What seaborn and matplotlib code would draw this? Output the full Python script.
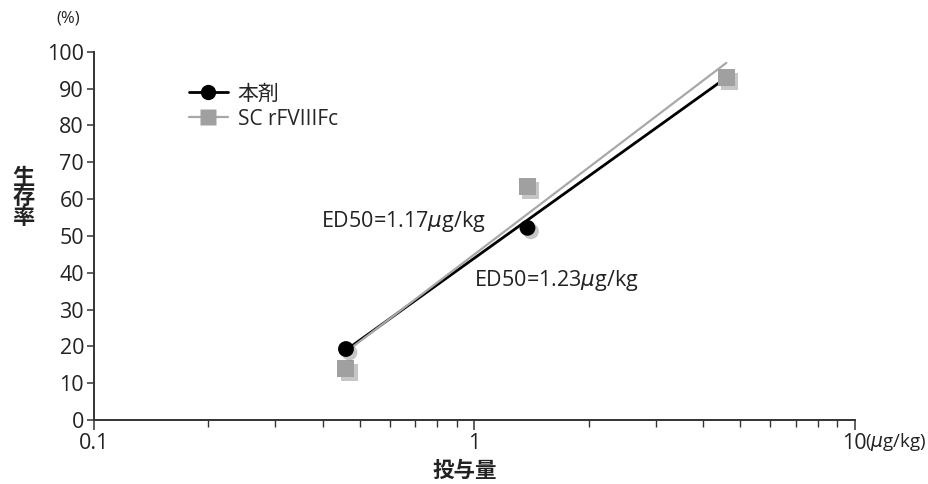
import matplotlib
matplotlib.use("Agg")
import matplotlib.pyplot as plt
import matplotlib.patheffects as pe
import pandas as pd
import seaborn as sns

# doses (ug/kg) and survival (%)
doses = [0.46, 1.38, 4.6]
survival_drug = [19.3, 52.2, 93.0]
survival_sc = [13.9, 63.3, 93.0]

# fitted lines (end points, %)
fit_dose = [0.46, 4.6]
fit_drug = [19.0, 93.0]
fit_sc = [18.5, 97.0]

series_names = ["本剤", "SC rFVIIIFc"]
ed50_labels = ["ED50=1.23$\\mu$g/kg", "ED50=1.17$\\mu$g/kg"]
y_ticks = list(range(0, 101, 10))

sns.set_theme(style="ticks")
plt.rcParams["font.family"] = ["Open Sans", "Noto Sans CJK JP", "DejaVu Sans"]
plt.rcParams["mathtext.fontset"] = "dejavusans"

points = pd.DataFrame({
    "dose": doses * 2,
    "survival": survival_drug + survival_sc,
    "group": [series_names[0]] * 3 + [series_names[1]] * 3,
})
fits = pd.DataFrame({
    "dose": fit_dose * 2,
    "survival": fit_drug + fit_sc,
    "group": [series_names[0]] * 2 + [series_names[1]] * 2,
})

fig = plt.figure(figsize=(9.29, 4.84), dpi=100)
ax = fig.add_axes([0.101, 0.132, 0.819, 0.761])

colors = {series_names[0]: "#000000", series_names[1]: "#a8a8a8"}
marker_colors = {series_names[0]: "#000000", series_names[1]: "#a0a0a0"}
shadow = [pe.SimplePatchShadow(offset=(2.5, -2.5), shadow_rgbFace="#444444", alpha=0.3), pe.Normal()]

sns.lineplot(data=fits, x="dose", y="survival", hue="group", palette=colors,
             linewidth=1.8, legend=False, ax=ax, zorder=2)
for line, lw in zip(ax.lines, [2.0, 1.6]):
    line.set_linewidth(lw)

# squares first so circles sit on top where they overlap
sns.scatterplot(data=points[points["group"] == series_names[1]], x="dose", y="survival",
                color=marker_colors[series_names[1]], marker="s", s=150, edgecolor="none",
                ax=ax, zorder=3, legend=False)
sns.scatterplot(data=points[points["group"] == series_names[0]].iloc[:2], x="dose", y="survival",
                color=marker_colors[series_names[0]], marker="o", s=130, edgecolor="none",
                ax=ax, zorder=4, legend=False)
for coll in ax.collections:
    coll.set_path_effects(shadow)

ax.set_xscale("log")
ax.set_xlim(0.1, 10)
ax.set_ylim(0, 100)
ax.set_yticks(y_ticks)
ax.set_xticks([0.1, 1, 10])
ax.set_xticklabels(["0.1", "1", "10"])
ax.set_yticklabels([str(t) for t in y_ticks])
ax.tick_params(axis="both", which="major", labelsize=15.5, colors="#333333", labelcolor="#222222",
               length=7, width=1.1, direction="out")
ax.tick_params(axis="x", which="minor", length=5, width=1.0, colors="#333333", direction="out")
ax.tick_params(axis="x", which="major", pad=2)
ax.tick_params(axis="y", which="major", length=5, pad=2)
sns.despine(ax=ax)
for side in ["left", "bottom"]:
    ax.spines[side].set_color("#333333")
    ax.spines[side].set_linewidth(1.4)

ax.set_xlabel("")
ax.set_ylabel("")
fig.text(0.5, 0.027, "投与量", fontsize=15.5, fontweight="bold", color="#222222",
         ha="center", va="center")
fig.text(0.025, 0.59, "生\n存\n率", fontsize=16, fontweight="bold", color="#222222",
         ha="center", va="center", linespacing=0.95)
fig.text(0.073, 0.962, "(%)", fontsize=12, color="#222222", ha="center", va="center")
ax.text(1.014, -0.06, "($\\mu$g/kg)", transform=ax.transAxes, fontsize=13.5, color="#222222",
        ha="left", va="center")

ax.text(1.0, 38, ed50_labels[0], fontsize=15.5, color="#222222", ha="left", va="center")
ax.text(0.395, 53.8, ed50_labels[1], fontsize=15.5, color="#222222", ha="left", va="center")

handles = [
    plt.Line2D([], [], color=colors[series_names[0]], lw=2.0, marker="o", markersize=11,
               markerfacecolor=marker_colors[series_names[0]], markeredgecolor="none"),
    plt.Line2D([], [], color=colors[series_names[1]], lw=1.6, marker="s", markersize=11,
               markerfacecolor=marker_colors[series_names[1]], markeredgecolor="none"),
]
ax.legend(handles, series_names, loc="upper left", bbox_to_anchor=(0.1, 0.965), frameon=False,
          fontsize=15, handlelength=1.9, handletextpad=0.45, labelspacing=0.2)

fig.savefig("out.png", dpi=100)
